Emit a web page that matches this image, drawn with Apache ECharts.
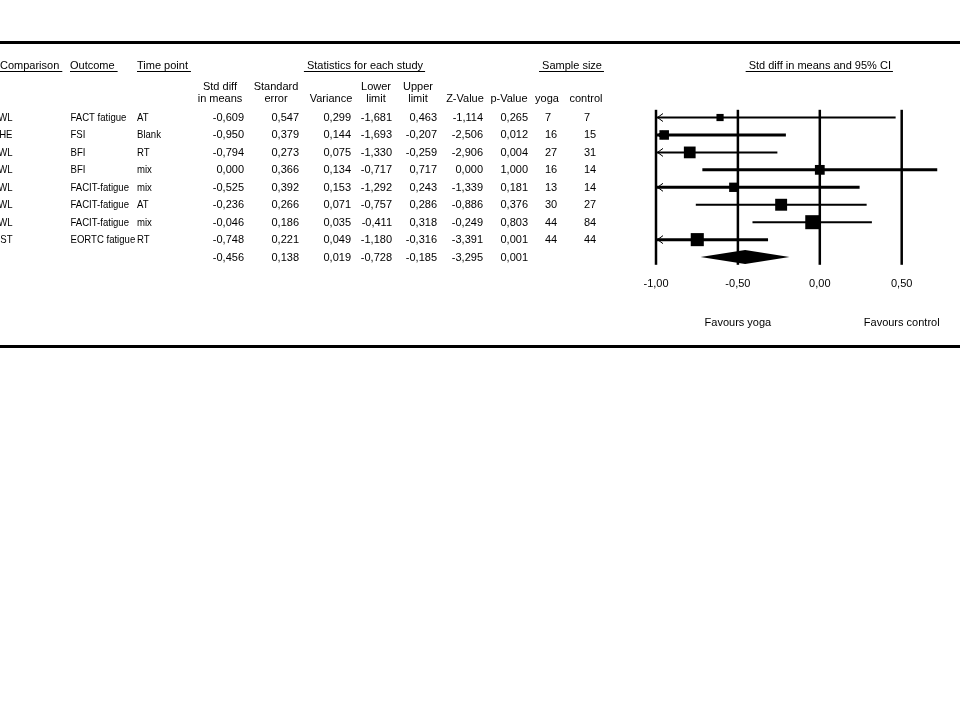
<!DOCTYPE html>
<html><head><meta charset="utf-8">
<script src="https://cdn.jsdelivr.net/npm/echarts@6/dist/echarts.min.js"></script>
<style>html,body{margin:0;padding:0;background:#fff}#c{width:960px;height:720px}</style>
</head><body><div id="c"></div>
<script>
// ---------- data ----------
const comparisons = ['WL','HE','WL','WL','WL','WL','WL','ST'];
const outcomes = ['FACT fatigue','FSI','BFI','BFI','FACIT-fatigue','FACIT-fatigue','FACIT-fatigue','EORTC fatigue'];
const timePoints = ['AT','Blank','RT','mix','mix','AT','mix','RT'];
const stdDiff = [-0.609,-0.950,-0.794,0.000,-0.525,-0.236,-0.046,-0.748];
const stdErr = [0.547,0.379,0.273,0.366,0.392,0.266,0.186,0.221];
const variance = [0.299,0.144,0.075,0.134,0.153,0.071,0.035,0.049];
const lowerLimit = [-1.681,-1.693,-1.330,-0.717,-1.292,-0.757,-0.411,-1.180];
const upperLimit = [0.463,-0.207,-0.259,0.717,0.243,0.286,0.318,-0.316];
const zValue = [-1.114,-2.506,-2.906,0.000,-1.339,-0.886,-0.249,-3.391];
const pValue = [0.265,0.012,0.004,1.000,0.181,0.376,0.803,0.001];
const yogaN = [7,16,27,16,13,30,44,44];
const controlN = [7,15,31,14,14,27,84,44];
// pooled: std diff, SE, variance, lower, upper, Z, p
const pooled = [-0.456,0.138,0.019,-0.728,-0.185,-3.295,0.001];
const axisTicks = [-1.0,-0.5,0.0,0.5];

// ---------- styles ----------
const FONT = "11px 'Liberation Sans', Arial, sans-serif";
const ciLineWidth = [2,3,2,3,3,2,2,3];
const AXIS_MIN = -1, AXIS_MAX = 0.75;
const NARROW = 0.87;

const fmt3 = v => v.toFixed(3).replace('.', ',');
const fmt2 = v => v.toFixed(2).replace('.', ',');

// box size from random-effects weight (tau^2 solved from pooled variance)
function solveTau2() {
  let a = 0, b = 1;
  const target = 1 / pooled[2];
  for (let k = 0; k < 60; k++) {
    const m = (a + b) / 2;
    const s = variance.reduce((t, v) => t + 1 / (v + m), 0);
    if (s > target) a = m; else b = m;
  }
  return (a + b) / 2;
}
const tau2 = solveTau2();
const boxSize = variance.map(v => 4.3 * Math.sqrt(1 / (v + tau2)));

const nRows = stdDiff.length + 1;
const rowCats = Array.from({length: nRows}, (_, i) => String(i));

const chart = echarts.init(document.getElementById('c'), null, {renderer: 'canvas'});

const studyData = stdDiff.map((d, i) => [i, lowerLimit[i], upperLimit[i], d, boxSize[i], ciLineWidth[i]]);
const pooledData = [[stdDiff.length, pooled[3], pooled[4], pooled[0]]];
const tickData = axisTicks.map(v => [v, 0]);

chart.setOption({
  animation: false,
  backgroundColor: '#fff',
  grid: {left: 656, top: 108.8, width: (AXIS_MAX - AXIS_MIN) * 163.8, height: 157, containLabel: false},
  xAxis: {
    type: 'value', min: AXIS_MIN, max: AXIS_MAX, interval: 0.5,
    axisLine: {show: false}, axisTick: {show: false}, splitLine: {show: false},
    axisLabel: {
      margin: 13, color: '#000', fontFamily: "'Liberation Sans', Arial, sans-serif", fontSize: 11,
      showMaxLabel: false, showMinLabel: true,
      formatter: v => axisTicks.some(t => Math.abs(t - v) < 1e-9) ? fmt2(v) : ''
    }
  },
  yAxis: {
    type: 'category', data: rowCats, inverse: true, show: false,
    axisLine: {show: false}, axisTick: {show: false}, axisLabel: {show: false}, splitLine: {show: false}
  },
  series: [
    {
      type: 'custom', data: tickData, encode: {x: 0, y: 1}, clip: false, silent: true,
      renderItem: (params, api) => {
        const p = api.coord([api.value(0), 0]);
        const cs = params.coordSys;
        return {type: 'line', shape: {x1: p[0], y1: cs.y + 1, x2: p[0], y2: cs.y + cs.height - 1},
          style: {stroke: '#000', lineWidth: 2.5}};
      }
    },
    {
      type: 'custom', data: studyData, encode: {x: [1, 2, 3], y: 0}, clip: false, silent: true,
      renderItem: (params, api) => {
        const row = api.value(0), lo = api.value(1), hi = api.value(2), est = api.value(3);
        const size = api.value(4), lw = api.value(5);
        const p0 = api.coord([Math.max(lo, AXIS_MIN), row]);
        const p1 = api.coord([Math.min(hi, AXIS_MAX), row]);
        const pc = api.coord([est, row]);
        const children = [
          {type: 'line', shape: {x1: p0[0], y1: p0[1], x2: p1[0], y2: p1[1]}, style: {stroke: '#000', lineWidth: lw}}
        ];
        if (lo < AXIS_MIN) {
          children.push({type: 'polyline', shape: {points: [[p0[0] + 7, p0[1] - 4], [p0[0] + 1.5, p0[1]], [p0[0] + 7, p0[1] + 4]]},
            style: {stroke: '#000', lineWidth: 1, fill: null}});
        }
        children.push({type: 'rect', shape: {x: pc[0] - size / 2, y: pc[1] - size / 2, width: size, height: size}, style: {fill: '#000'}});
        return {type: 'group', children};
      }
    },
    {
      type: 'custom', data: pooledData, encode: {x: [1, 2, 3], y: 0}, clip: false, silent: true,
      renderItem: (params, api) => {
        const row = api.value(0);
        const a = api.coord([api.value(1), row]);
        const b = api.coord([api.value(2), row]);
        const c = api.coord([api.value(3), row]);
        return {type: 'polygon', shape: {points: [[a[0], a[1]], [c[0], c[1] - 7], [b[0], b[1]], [c[0], c[1] + 7]]},
          style: {fill: '#000'}};
      }
    }
  ]
});

// ---------- table text, positioned from the chart's own row scale ----------
const measureCtx = document.createElement('canvas').getContext('2d');
measureCtx.font = FONT;
const tw = s => measureCtx.measureText(s).width;

const rowY = i => chart.convertToPixel({gridIndex: 0}, [0, i])[1];
const xOf = v => chart.convertToPixel({gridIndex: 0}, [v, 0])[0];

const g = [];
function txt(x, y, s, align) {
  g.push({type: 'text', x: x, y: y, silent: true,
    style: {text: s, font: FONT, fill: '#000', align: align || 'left', verticalAlign: 'middle'}});
}
// narrow-cap text: drawn via a group whose x-scale only is reduced
function txtNarrow(x, y, s, align) {
  g.push({type: 'group', x: x, y: y, scaleX: NARROW, scaleY: 1, silent: true, children: [
    {type: 'text', x: 0, y: 0, silent: true,
      style: {text: s, font: FONT, fill: '#000', align: align || 'left', verticalAlign: 'middle'}}
  ]});
}
function uline(x1, x2, y) {
  g.push({type: 'line', silent: true, shape: {x1: x1, y1: y, x2: x2, y2: y}, style: {stroke: '#000', lineWidth: 1}});
}
function headerL(x, y, s) { txt(x, y, s, 'left'); uline(x, x + tw(s) + 3, y + 5.5); }
function headerC(cx, y, s) { txt(cx, y, s, 'center'); const w = tw(s); uline(cx - w / 2 - 3, cx + w / 2 + 2, y + 5.5); }

// rules
g.push({type: 'rect', silent: true, shape: {x: 0, y: 41, width: 960, height: 3}, style: {fill: '#000'}});
g.push({type: 'rect', silent: true, shape: {x: 0, y: 345, width: 960, height: 3}, style: {fill: '#000'}});

const H1 = 66, H2a = 87, H2b = 99;
headerL(0, H1, 'Comparison');
headerL(70, H1, 'Outcome');
headerL(137, H1, 'Time point');
headerC(365, H1, 'Statistics for each study');
headerC(572, H1, 'Sample size');
headerC(xOf(0), H1, 'Std diff in means and 95% CI');

txt(220, H2a, 'Std diff', 'center'); txt(220, H2b, 'in means', 'center');
txt(276, H2a, 'Standard', 'center'); txt(276, H2b, 'error', 'center');
txt(331, H2b, 'Variance', 'center');
txt(376, H2a, 'Lower', 'center'); txt(376, H2b, 'limit', 'center');
txt(418, H2a, 'Upper', 'center'); txt(418, H2b, 'limit', 'center');
txt(465, H2b, 'Z-Value', 'center');
txt(509, H2b, 'p-Value', 'center');
txt(547, H2b, 'yoga', 'center');
txt(586, H2b, 'control', 'center');

const colRight = {sd: 244, se: 299, vr: 351, lo: 392, up: 437, z: 483, p: 528};
stdDiff.forEach((d, i) => {
  const y = rowY(i) + 0.5;
  txtNarrow(12.5, y, comparisons[i], 'right');
  txtNarrow(70.5, y, outcomes[i], 'left');
  txtNarrow(137, y, timePoints[i], 'left');
  txt(colRight.sd, y, fmt3(d), 'right');
  txt(colRight.se, y, fmt3(stdErr[i]), 'right');
  txt(colRight.vr, y, fmt3(variance[i]), 'right');
  txt(colRight.lo, y, fmt3(lowerLimit[i]), 'right');
  txt(colRight.up, y, fmt3(upperLimit[i]), 'right');
  txt(colRight.z, y, fmt3(zValue[i]), 'right');
  txt(colRight.p, y, fmt3(pValue[i]), 'right');
  txt(545, y, String(yogaN[i]));
  txt(584, y, String(controlN[i]));
});
const yp = rowY(stdDiff.length) + 0.5;
[colRight.sd, colRight.se, colRight.vr, colRight.lo, colRight.up, colRight.z, colRight.p].forEach((x, k) => {
  txt(x, yp, fmt3(pooled[k]), 'right');
});

txt(xOf(-0.5), 322.5, 'Favours yoga', 'center');
txt(xOf(0.5), 322.5, 'Favours control', 'center');

chart.setOption({graphic: {elements: g}});
</script>
</body></html>
